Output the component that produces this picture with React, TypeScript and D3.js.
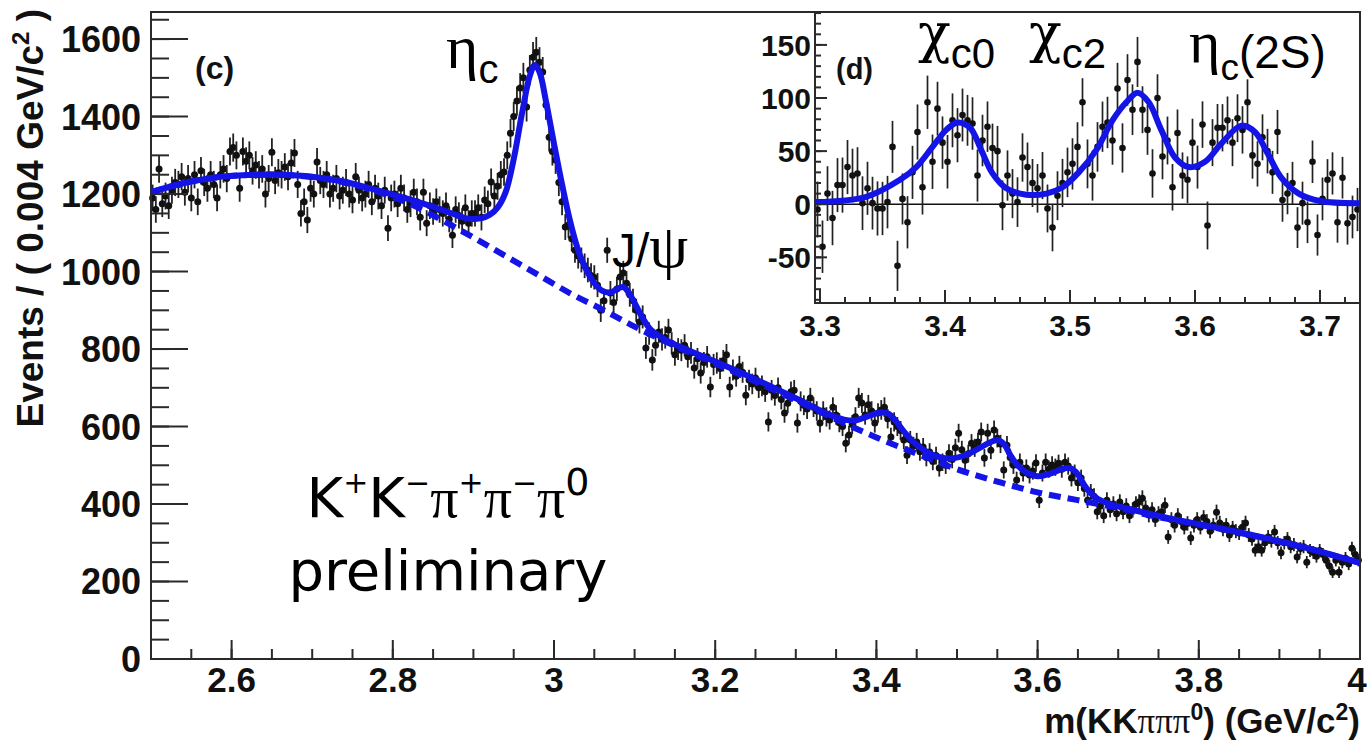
import React from "react";
import * as d3 from "d3";

const WIDTH = 1367;
const HEIGHT = 741;

// histogram binning (GeV/c^2)
const binWidth = 0.004;
const mainStart = 2.5;

// main histogram, events per bin, 25 bins per 0.1 GeV
const counts250 = [1190, 1160, 1265, 1175, 1195, 1170, 1210, 1230, 1225, 1245, 1205, 1240, 1190, 1250, 1180, 1260, 1230, 1215, 1250, 1225, 1190, 1250, 1265, 1240, 1310];
const counts260 = [1320, 1300, 1215, 1310, 1285, 1300, 1260, 1275, 1250, 1265, 1200, 1240, 1308, 1235, 1255, 1250, 1270, 1245, 1280, 1306, 1225, 1150, 1180, 1133, 1215];
const counts270 = [1200, 1283, 1235, 1225, 1250, 1200, 1215, 1240, 1195, 1210, 1230, 1200, 1185, 1245, 1210, 1190, 1200, 1225, 1180, 1215, 1195, 1170, 1210, 1112, 1190];
const counts280 = [1200, 1175, 1215, 1190, 1160, 1175, 1205, 1180, 1140, 1205, 1125, 1170, 1155, 1180, 1160, 1150, 1170, 1135, 1094, 1160, 1145, 1130, 1165, 1125, 1150];
const counts290 = [1150, 1165, 1140, 1185, 1175, 1231, 1195, 1220, 1250, 1257, 1300, 1357, 1400, 1440, 1474, 1500, 1425, 1520, 1553, 1566, 1540, 1515, 1430, 1347, 1310];
const counts300 = [1288, 1230, 1180, 1115, 1120, 1085, 1055, 1040, 1030, 1015, 1004, 990, 985, 965, 900, 925, 1055, 945, 920, 955, 986, 996, 970, 940, 925];
const counts310 = [900, 870, 883, 803, 840, 772, 810, 844, 825, 830, 849, 815, 785, 800, 797, 810, 780, 790, 751, 775, 738, 765, 780, 702, 760];
const counts320 = [764, 750, 770, 785, 702, 746, 730, 755, 740, 681, 720, 710, 725, 700, 705, 690, 612, 694, 680, 700, 670, 635, 660, 690, 694];
const counts330 = [609, 665, 655, 645, 674, 650, 640, 609, 640, 625, 617, 650, 630, 610, 600, 557, 578, 605, 625, 674, 661, 630, 656, 640, 609];
const counts340 = [635, 643, 650, 620, 573, 612, 600, 590, 565, 526, 565, 550, 560, 535, 547, 520, 534, 510, 525, 493, 508, 500, 531, 515, 545];
const counts350 = [583, 540, 513, 530, 557, 545, 560, 586, 519, 583, 539, 591, 570, 555, 488, 552, 520, 500, 462, 508, 480, 493, 475, 485, 506];
const counts360 = [410, 480, 508, 490, 501, 495, 505, 490, 508, 498, 467, 480, 455, 467, 440, 410, 431, 420, 380, 395, 370, 410, 385, 400, 375];
const counts370 = [405, 380, 395, 370, 385, 400, 405, 415, 390, 372, 385, 360, 375, 380, 397, 315, 360, 345, 370, 355, 340, 350, 312, 345, 360];
const counts380 = [340, 365, 355, 330, 345, 379, 351, 335, 345, 320, 338, 330, 325, 340, 351, 320, 310, 281, 290, 281, 300, 315, 305, 328, 300];
const counts390 = [274, 300, 310, 290, 295, 263, 285, 290, 250, 280, 275, 265, 280, 270, 255, 240, 224, 255, 224, 250, 260, 245, 286, 270, 255];

const mainCounts = [
  ...counts250, ...counts260, ...counts270, ...counts280, ...counts290,
  ...counts300, ...counts310, ...counts320, ...counts330, ...counts340,
  ...counts350, ...counts360, ...counts370, ...counts380, ...counts390,
];

// total fit (solid) and background (dashed)
const fitMass = [2.5, 2.54, 2.58, 2.62, 2.66, 2.7, 2.74, 2.78, 2.82, 2.86, 2.88, 2.895, 2.91, 2.92, 2.93, 2.94, 2.95, 2.96, 2.97, 2.976, 2.982, 2.99, 3.0, 3.01, 3.02, 3.03, 3.04, 3.05, 3.06, 3.07, 3.08, 3.086, 3.092, 3.1, 3.11, 3.12, 3.135, 3.15, 3.2, 3.25, 3.3, 3.34, 3.36, 3.375, 3.39, 3.405, 3.415, 3.425, 3.435, 3.45, 3.465, 3.48, 3.495, 3.51, 3.525, 3.54, 3.55, 3.558, 3.566, 3.575, 3.585, 3.6, 3.615, 3.63, 3.64, 3.648, 3.656, 3.665, 3.675, 3.69, 3.72, 3.76, 3.8, 3.85, 3.9, 3.95, 4.0];
const fitEvents = [1205, 1228, 1243, 1249, 1250, 1245, 1232, 1210, 1187, 1160, 1145, 1136, 1138, 1146, 1165, 1205, 1290, 1405, 1505, 1533, 1515, 1440, 1330, 1225, 1130, 1055, 1005, 970, 950, 946, 957, 960, 948, 919, 880, 850, 828, 812, 768, 722, 673, 632, 618, 616, 627, 636, 633, 612, 585, 553, 532, 520, 518, 526, 541, 558, 565, 555, 527, 500, 483, 472, 478, 490, 493, 482, 455, 430, 413, 400, 384, 365, 348, 327, 304, 278, 248];

const bkgMass = [2.5, 2.54, 2.58, 2.62, 2.66, 2.7, 2.74, 2.78, 2.82, 2.86, 2.9, 2.94, 2.98, 3.02, 3.06, 3.1, 3.15, 3.2, 3.25, 3.3, 3.35, 3.4, 3.45, 3.5, 3.55, 3.6, 3.65, 3.7, 3.75, 3.8, 3.85, 3.9, 3.95, 4.0];
const bkgEvents = [1205, 1228, 1243, 1249, 1250, 1244, 1230, 1207, 1176, 1134, 1088, 1040, 992, 944, 902, 858, 808, 763, 716, 668, 618, 572, 530, 490, 458, 430, 410, 390, 366, 347, 326, 303, 277, 248];

// inset (d): background-subtracted, same binning starting at 3.296
const insetStart = 3.296;
const insetCounts = [
  -5, -40, 10, -13, 18, 18, 35, 27, 29, 1,
  15, 1, -4, -4, 2, 54, -58, 5, -17, 30,
  68, 16, 96, 40, 90, 58, 40, 79, 65, 84,
  79, 76, 27, 60, 73, 53, 50, -1, 27, 10,
  2, 44, 35, 20, 15, 27, -4, -22, 8, 20,
  30, 38, 54, 96, 38, 27, 54, 73, 77, 60,
  109, 53, 117, 89, 134, 89, 70, 29, 100, 45,
  60, 16, 67, 27, 23, 58, 35, 75, -20, 58,
  72, 72, 79, 58, 81, 70, 96, 46, 38, 63,
  50, 30, 68, 4, 10, 20, -22, 1, -17, 40,
  -29, 5, 23, 29, -17, 25, -18, -12, -5,
];
const insetFitMass = [3.296, 3.337, 3.364, 3.377, 3.39, 3.401, 3.41, 3.42, 3.429, 3.438, 3.449, 3.465, 3.481, 3.494, 3.507, 3.521, 3.534, 3.545, 3.554, 3.563, 3.573, 3.584, 3.595, 3.608, 3.621, 3.637, 3.648, 3.658, 3.669, 3.683, 3.7, 3.732];
const insetFitEvents = [2, 7, 23, 35, 54, 70, 77, 72, 51, 29, 15, 9, 10, 16, 30, 51, 79, 96, 105, 96, 70, 44, 35, 40, 57, 74, 68, 48, 25, 10, 3, 1];

const mainYTicks = [0, 200, 400, 600, 800, 1000, 1200, 1400, 1600];
const mainXTicks = [2.6, 2.8, 3, 3.2, 3.4, 3.6, 3.8, 4];
const insetYTicks = [-50, 0, 50, 100, 150];
const insetXTicks = [3.3, 3.4, 3.5, 3.6, 3.7];

const AXIS_FONT = "'Liberation Sans', Arial, Helvetica, sans-serif";
const LABEL_FONT = "'DejaVu Sans', Verdana, sans-serif";
const GREEK_FONT = "'Liberation Serif', 'Times New Roman', serif";
const CHI_FONT = "'DejaVu Serif', 'Liberation Serif', serif";
const FIT_BLUE = "#1414e6";
const FRAME = "#2a2a2a";

export default function App() {
  const x = d3.scaleLinear().domain([2.5, 4.0]).range([151, 1360]);
  const y = d3.scaleLinear().domain([0, 1670]).range([659, 12]);
  const ix = d3.scaleLinear().domain([3.296, 3.732]).range([815, 1360]);
  const iy = d3.scaleLinear().domain([-93, 181]).range([303, 12]);

  const mainPts = mainCounts.map((v, i) => ({
    m: mainStart + binWidth * (i + 0.5),
    v,
    e: Math.sqrt(v),
  }));
  const insetPts = insetCounts.map((v, k) => ({
    m: insetStart + binWidth * (k + 0.5),
    v,
    e: Math.sqrt(mainCounts[199 + k]),
  }));

  const mainLine = d3
    .line<number>()
    .x((_, i) => x(fitMass[i]))
    .y((d) => y(d))
    .curve(d3.curveCatmullRom);
  const bkgLine = d3
    .line<number>()
    .x((_, i) => x(bkgMass[i]))
    .y((d) => y(d))
    .curve(d3.curveCatmullRom);
  const insetLine = d3
    .line<number>()
    .x((_, i) => ix(insetFitMass[i]))
    .y((d) => iy(d))
    .curve(d3.curveCatmullRom);

  const xMinor = d3.range(2.55, 4.0, 0.05);
  const yMinor = d3.range(50, 1670, 50);
  const ixMinor = d3.range(3.3, 3.732, 0.02);
  const iyMinor = d3.range(-90, 181, 10);

  const [x0, x1] = x.range();
  const [yb, yt] = y.range();
  const [ix0, ix1] = ix.range();
  const [iyb, iyt] = iy.range();

  return (
    <svg
      width={WIDTH}
      height={HEIGHT}
      style={{ position: "absolute", left: 0, top: 0, background: "#fff" }}
    >
      <rect width={WIDTH} height={HEIGHT} fill="#fff" />

      {/* main data points */}
      <g>
        {mainPts.map((p, i) => (
          <g key={i}>
            <line x1={x(p.m)} x2={x(p.m)} y1={y(p.v - p.e)} y2={y(p.v + p.e)} stroke="#222" strokeWidth={1.8} />
            <line x1={x(p.m - binWidth / 2)} x2={x(p.m + binWidth / 2)} y1={y(p.v)} y2={y(p.v)} stroke="#111" strokeWidth={1.6} />
            <circle cx={x(p.m)} cy={y(p.v)} r={3.5} fill="#111" />
          </g>
        ))}
      </g>

      {/* fits */}
      <path d={bkgLine(bkgEvents) || ""} fill="none" stroke={FIT_BLUE} strokeWidth={6} strokeDasharray="12 7" />
      <path d={mainLine(fitEvents) || ""} fill="none" stroke={FIT_BLUE} strokeWidth={6} />

      {/* main frame and axes */}
      <rect x={x0} y={yt} width={x1 - x0} height={yb - yt} fill="none" stroke={FRAME} strokeWidth={2} />
      {xMinor.map((t) => (
        <line key={"xm" + t} x1={x(t)} x2={x(t)} y1={yb} y2={yb - 10} stroke={FRAME} strokeWidth={2} />
      ))}
      {mainXTicks.map((t) => (
        <g key={"xt" + t}>
          <line x1={x(t)} x2={x(t)} y1={yb} y2={yb - 19} stroke={FRAME} strokeWidth={2} />
          <text x={t === 4 ? x(t) - 3 : x(t)} y={692} textAnchor="middle" fontFamily={AXIS_FONT} fontWeight="bold" fontSize={35} fill="#111">
            {String(t)}
          </text>
        </g>
      ))}
      {yMinor.map((t) => (
        <line key={"ym" + t} x1={x0} x2={x0 + 18} y1={y(t)} y2={y(t)} stroke={FRAME} strokeWidth={2} />
      ))}
      {mainYTicks.map((t) => (
        <g key={"yt" + t}>
          <line x1={x0} x2={x0 + 37} y1={y(t)} y2={y(t)} stroke={FRAME} strokeWidth={2} />
          <text x={141} y={y(t)} dy="0.36em" textAnchor="end" fontFamily={AXIS_FONT} fontWeight="bold" fontSize={36} fill="#111">
            {t}
          </text>
        </g>
      ))}

      <text transform="translate(43,9) rotate(-90)" textAnchor="end" fontFamily={AXIS_FONT} fontWeight="bold" fontSize={37} fill="#111">
        Events / ( 0.004 GeV/c<tspan dy={-14} fontSize={24}>2</tspan><tspan dy={14}> )</tspan>
      </text>
      <text x={1360} y={733} textAnchor="end" fontFamily={AXIS_FONT} fontWeight="bold" fontSize={35} fill="#111">
        m(KK<tspan fontFamily={GREEK_FONT} fontWeight="normal">πππ</tspan>
        <tspan dy={-13} fontSize={23}>0</tspan>
        <tspan dy={13}>) (GeV/c</tspan>
        <tspan dy={-13} fontSize={23}>2</tspan>
        <tspan dy={13}>)</tspan>
      </text>

      <text x={195} y={79} fontFamily={AXIS_FONT} fontWeight="bold" fontSize={32} fill="#111">(c)</text>

      {/* peak labels */}
      <text x={446} y={68} fill="#000">
        <tspan fontFamily={GREEK_FONT} fontSize={62}>η</tspan>
        <tspan fontFamily={AXIS_FONT} fontSize={40} dy={15}>c</tspan>
      </text>
      <text x={612} y={267} fill="#000">
        <tspan fontFamily={AXIS_FONT} fontSize={48}>J/</tspan>
        <tspan fontFamily={GREEK_FONT} fontSize={62}>ψ</tspan>
      </text>

      <text x={448} y={517} textAnchor="middle" fontFamily={LABEL_FONT} fontSize={56} fill="#000">
        K<tspan fontSize={30} dy={-24}>+</tspan>
        <tspan dy={24}>K</tspan>
        <tspan fontSize={30} dy={-24}>−</tspan>
        <tspan dy={24} fontFamily={GREEK_FONT}>π</tspan>
        <tspan fontSize={30} dy={-24}>+</tspan>
        <tspan dy={24} fontFamily={GREEK_FONT}>π</tspan>
        <tspan fontSize={30} dy={-24}>−</tspan>
        <tspan dy={24} fontFamily={GREEK_FONT}>π</tspan>
        <tspan fontSize={38} dy={-22}>0</tspan>
      </text>
      <text x={448} y={590} textAnchor="middle" fontFamily={LABEL_FONT} fontSize={56} fill="#000">
        preliminary
      </text>

      {/* inset (d) */}
      <g>
        <rect x={ix0} y={iyt} width={ix1 - ix0} height={iyb - iyt} fill="#fff" />
        <line x1={ix0} x2={ix1} y1={iy(0)} y2={iy(0)} stroke="#111" strokeWidth={1.5} />
        {insetPts.map((p, k) => (
          <g key={k}>
            <line x1={ix(p.m)} x2={ix(p.m)} y1={iy(p.v - p.e)} y2={iy(p.v + p.e)} stroke="#222" strokeWidth={1.7} />
            <circle cx={ix(p.m)} cy={iy(p.v)} r={3.3} fill="#111" />
          </g>
        ))}
        <path d={insetLine(insetFitEvents) || ""} fill="none" stroke={FIT_BLUE} strokeWidth={6} />
        <rect x={ix0} y={iyt} width={ix1 - ix0} height={iyb - iyt} fill="none" stroke={FRAME} strokeWidth={2} />
        {ixMinor.map((t) => (
          <line key={"ixm" + t} x1={ix(t)} x2={ix(t)} y1={iyb} y2={iyb - 6} stroke={FRAME} strokeWidth={2} />
        ))}
        {insetXTicks.map((t) => (
          <g key={"ixt" + t}>
            <line x1={ix(t)} x2={ix(t)} y1={iyb} y2={iyb - 13} stroke={FRAME} strokeWidth={2} />
            <text x={ix(t)} y={336} textAnchor="middle" fontFamily={AXIS_FONT} fontWeight="bold" fontSize={30} fill="#111">
              {t.toFixed(1)}
            </text>
          </g>
        ))}
        {iyMinor.map((t) => (
          <line key={"iym" + t} x1={ix0} x2={ix0 + 6} y1={iy(t)} y2={iy(t)} stroke={FRAME} strokeWidth={2} />
        ))}
        {insetYTicks.map((t) => (
          <g key={"iyt" + t}>
            <line x1={ix0} x2={ix0 + 12} y1={iy(t)} y2={iy(t)} stroke={FRAME} strokeWidth={2} />
            <text x={811} y={iy(t)} dy="0.36em" textAnchor="end" fontFamily={AXIS_FONT} fontWeight="bold" fontSize={30} fill="#111">
              {t}
            </text>
          </g>
        ))}
        <text x={836} y={79} fontFamily={AXIS_FONT} fontWeight="bold" fontSize={29} fill="#111">(d)</text>
        <text x={918} y={52} fill="#000">
          <tspan fontFamily={CHI_FONT} fontSize={54}>χ</tspan>
          <tspan fontFamily={AXIS_FONT} fontSize={42} dy={16}>c0</tspan>
        </text>
        <text x={1029} y={52} fill="#000">
          <tspan fontFamily={CHI_FONT} fontSize={54}>χ</tspan>
          <tspan fontFamily={AXIS_FONT} fontSize={42} dy={16}>c2</tspan>
        </text>
        <text x={1189} y={62} fill="#000">
          <tspan fontFamily={GREEK_FONT} fontSize={60}>η</tspan>
          <tspan fontFamily={AXIS_FONT} fontSize={37} dy={18}>c</tspan>
          <tspan fontFamily={AXIS_FONT} fontSize={46} dy={-12}>(2S)</tspan>
        </text>
      </g>
    </svg>
  );
}
